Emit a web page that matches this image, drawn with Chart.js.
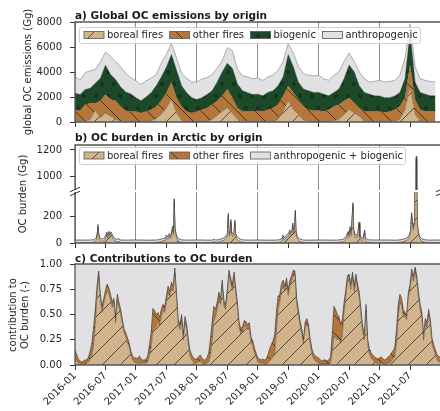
<!DOCTYPE html>
<html>
<head>
<meta charset="utf-8">
<script src="https://cdn.jsdelivr.net/npm/chart.js@4.4.1/dist/chart.umd.min.js"></script>
<style>
  html, body { margin: 0; padding: 0; background: #fff; }
  #wrap { position: relative; width: 440px; height: 411px; overflow: hidden; }
  canvas { position: absolute; left: 0; }
  .ttl { position: absolute; left: 75px; font: bold 10.5px "DejaVu Sans"; line-height: 12px; color: #1a1a1a; white-space: nowrap; }
  .yt { position: absolute; transform: translate(-50%, -50%) rotate(-90deg); font: 10px "DejaVu Sans"; line-height: 12px; text-align: center; white-space: nowrap; color: #262626; }
</style>
</head>
<body>
<div id="wrap">
  <canvas id="cA" width="440" height="130" style="top:0"></canvas>
  <canvas id="cB1" width="440" height="70" style="top:125px"></canvas>
  <canvas id="cB2" width="440" height="66" style="top:185px"></canvas>
  <canvas id="cC" width="440" height="160" style="top:251px"></canvas>
  <div class="ttl" style="top:9px">a) Global OC emissions by origin</div>
  <div class="ttl" style="top:130.5px">b) OC burden in Arctic by origin</div>
  <div class="ttl" style="top:251.5px">c) Contributions to OC burden</div>
  <div class="yt" style="left:27.5px;top:72px">global OC emissions (Gg)</div>
  <div class="yt" style="left:23px;top:194px">OC burden (Gg)</div>
  <div class="yt" style="left:19px;top:314.5px">contribution to<br>OC burden (-)</div>
</div>
<script>
// x axis: months since 2016-01
const tickMonths = [0, 6, 12, 18, 24, 30, 36, 42, 48, 54, 60, 66];
const tickLabels = ['2016-01', '2016-07', '2017-01', '2017-07', '2018-01', '2018-07',
  '2019-01', '2019-07', '2020-01', '2020-07', '2021-01', '2021-07'];

// a) monthly global emissions (Gg), 2016-01 .. 2021-12
const emisTicks = [0, 2000, 4000, 6000, 8000];
const emisBoreal = [20, 20, 50, 200, 900, 300, 700, 450, 200, 50, 20, 10,
  10, 10, 20, 80, 250, 600, 1100, 1800, 700, 100, 20, 10,
  10, 10, 30, 200, 500, 850, 1130, 700, 200, 50, 20, 10,
  10, 10, 20, 60, 200, 850, 1680, 990, 580, 150, 30, 10,
  10, 10, 20, 80, 200, 580, 990, 715, 440, 50, 10, 10,
  10, 10, 20, 50, 200, 990, 2780, 580, 100, 20, 10, 10];
const emisOther = [980, 880, 1350, 1300, 600, 1400, 1500, 1350, 1500, 1200, 880, 840,
  840, 710, 830, 920, 1000, 1100, 1250, 1400, 1250, 1150, 830, 710,
  840, 980, 1100, 1200, 1180, 1240, 1510, 1250, 930, 800, 830, 840,
  890, 840, 970, 1070, 1200, 1240, 1220, 1375, 1220, 1115, 960, 890,
  920, 840, 970, 1185, 1200, 1100, 960, 825, 690, 800, 840, 840,
  840, 760, 830, 940, 1065, 960, 1780, 1220, 890, 830, 840, 840];
const emisBio = [1300, 1300, 1200, 1200, 1600, 1800, 2350, 2000, 1700, 1550, 1500, 1400,
  1100, 980, 1150, 1350, 1650, 1900, 2050, 2200, 2200, 1650, 1500, 1230,
  950, 960, 1070, 1100, 1510, 1910, 2060, 2350, 1920, 1650, 1500, 1350,
  1330, 1250, 1380, 1370, 1500, 1510, 2500, 2065, 1390, 1375, 1510, 1465,
  1435, 1380, 1110, 1100, 1240, 1780, 2615, 2475, 1770, 1515, 1380, 1250,
  1240, 1180, 1100, 1100, 1100, 1510, 2540, 1390, 1375, 1380, 1250, 1250];
const emisAnth = [1350, 1150, 1350, 1400, 1100, 1300, 1050, 1450, 1450, 1600, 1500, 1300,
  1350, 1300, 1300, 1150, 900, 1100, 1000, 900, 950, 1000, 1150, 1250,
  1400, 1500, 1350, 1300, 1110, 900, 1250, 1400, 1150, 1200, 1250, 1250,
  1290, 1230, 1230, 1240, 1250, 1240, 870, 1100, 1240, 1240, 1240, 1315,
  1375, 1230, 1230, 1375, 1360, 1380, 965, 825, 1100, 1095, 960, 1150,
  1240, 1240, 1300, 1240, 1375, 1640, 750, 1240, 1095, 1100, 1150, 1090];

// b) Arctic OC burden (Gg), sampled unevenly (denser around fire peaks)
const burdenTicksHigh = [1000, 1200];
const burdenTicksLow = [0, 200];
const burdenMonth = [0, 1, 2, 3, 3.8, 4.2, 4.4, 4.5, 4.6, 4.8, 5.0, 5.4, 5.8, 6.1, 6.3, 6.45, 6.6, 6.75, 6.9, 7.1, 7.3, 7.5, 7.8, 8.3, 8.6, 9.0, 10, 11,
  12, 13, 14, 15, 16, 16.5, 17.0, 17.5, 17.8, 18.0, 18.3, 18.6, 18.9, 19.2, 19.4, 19.55, 19.7, 19.9, 20.1, 20.5, 21, 22, 23,
  24, 25, 26, 27, 27.4, 27.7, 28.3, 28.8, 29.3, 29.7, 30.0, 30.2, 30.35, 30.55, 30.7, 30.85, 31.1, 31.3, 31.5, 31.65, 31.9, 32.3, 32.8, 33.5, 34.5, 35.5,
  36.5, 37.5, 38.5, 39.5, 40.3, 40.8, 41.0, 41.2, 41.5, 41.8, 42.1, 42.3, 42.5, 42.7, 42.9, 43.05, 43.25, 43.4, 43.55, 43.8, 44.2, 44.8, 45.5, 46.5, 47.5,
  48.5, 49.5, 50.5, 51.5, 52.3, 52.8, 53.2, 53.5, 53.8, 54.0, 54.2, 54.4, 54.75, 54.9, 55.1, 55.4, 55.7, 55.95, 56.1, 56.5, 56.8, 57.05, 57.2, 57.6, 58.5, 59.5,
  60.5, 61.5, 62.5, 63.5, 64.3, 64.9, 65.4, 65.8, 66.1, 66.3, 66.45, 66.6, 66.8, 66.95, 67.1, 67.22, 67.32, 67.45, 67.65, 67.9, 68.3, 69, 70, 71, 72];
const burdenBoreal = [1, 1, 1, 2, 5, 20, 60, 112, 70, 30, 15, 10, 20, 40, 60, 35, 55, 65, 45, 60, 45, 30, 15, 8, 12, 3, 1, 1,
  1, 1, 1, 2, 3, 5, 10, 15, 20, 40, 25, 50, 30, 100, 60, 300, 90, 50, 25, 10, 4, 1, 1,
  1, 1, 1, 2, 10, 4, 5, 12, 20, 30, 45, 195, 50, 70, 150, 60, 45, 55, 145, 50, 30, 15, 6, 3, 1, 1,
  1, 1, 2, 3, 6, 15, 40, 20, 30, 45, 50, 75, 55, 60, 125, 70, 90, 218, 60, 30, 12, 5, 2, 1, 1,
  1, 1, 2, 3, 5, 10, 20, 35, 65, 40, 100, 50, 270, 80, 50, 35, 50, 130, 40, 15, 25, 75, 20, 6, 2, 1,
  1, 1, 2, 3, 6, 12, 18, 35, 70, 200, 140, 90, 130, 400, 450, 1120, 430, 120, 60, 30, 12, 4, 1, 1, 1];
const burdenOther = [1, 1, 1, 2, 2, 3, 5, 8, 5, 3, 2, 2, 3, 4, 6, 4, 5, 6, 4, 5, 4, 3, 2, 2, 2, 1, 1, 1,
  1, 1, 1, 1, 2, 2, 3, 3, 3, 4, 3, 5, 4, 7, 5, 12, 8, 5, 3, 2, 1, 1, 1,
  1, 1, 1, 1, 2, 1, 2, 2, 3, 4, 5, 8, 5, 6, 8, 5, 4, 5, 8, 5, 3, 2, 1, 1, 1, 1,
  1, 1, 1, 1, 2, 2, 4, 3, 3, 4, 5, 6, 5, 5, 7, 5, 6, 10, 5, 3, 2, 1, 1, 1, 1,
  1, 1, 1, 1, 2, 2, 3, 4, 5, 4, 6, 5, 12, 6, 5, 4, 5, 8, 4, 2, 3, 5, 2, 1, 1, 1,
  1, 1, 1, 1, 2, 2, 3, 4, 5, 8, 7, 6, 8, 10, 10, 15, 10, 7, 5, 3, 2, 1, 1, 1, 1];
const burdenRest = [19, 20, 19, 18, 17, 17, 17, 17, 17, 17, 16, 16, 16, 16, 16, 16, 16, 16, 16, 16, 16, 16, 17, 17, 17, 18, 19, 20,
  20, 20, 19, 18, 17, 17, 16, 16, 16, 16, 16, 16, 16, 16, 16, 16, 16, 16, 16, 17, 18, 19, 20,
  20, 20, 19, 18, 17, 17, 17, 16, 16, 16, 16, 16, 16, 16, 16, 16, 16, 16, 16, 16, 16, 17, 17, 18, 19, 20,
  20, 19, 18, 17, 17, 16, 16, 16, 16, 16, 16, 16, 16, 16, 16, 16, 16, 16, 16, 16, 17, 17, 18, 19, 20,
  20, 20, 18, 17, 17, 16, 16, 16, 16, 16, 16, 16, 16, 16, 16, 16, 16, 16, 16, 16, 16, 17, 17, 17, 19, 20,
  20, 20, 18, 17, 17, 16, 16, 16, 16, 16, 16, 16, 16, 16, 16, 16, 16, 16, 16, 16, 17, 18, 19, 20, 20];

// c) share of OC burden, one value every ~10 days (a third of a month)
const contribTicks = [0, 0.25, 0.5, 0.75, 1];
const contribBoreal = [
  0.07, 0.04, 0.02, 0.01, 0.01, 0.01, 0.02, 0.02, 0.03, 0.06, 0.10, 0.20, 0.40, 0.70, 0.88,
  0.65, 0.52, 0.61, 0.68, 0.73, 0.71, 0.64, 0.57, 0.62, 0.42, 0.64, 0.57, 0.50, 0.41, 0.32, 0.28, 0.22, 0.18, 0.10, 0.05, 0.03,
  0.02, 0.02, 0.03, 0.02, 0.02, 0.02, 0.02, 0.03, 0.10, 0.17, 0.34, 0.36, 0.38, 0.42, 0.39,
  0.48, 0.54, 0.52, 0.62, 0.72, 0.68, 0.76, 0.73, 0.91, 0.66, 0.40, 0.35, 0.44, 0.25, 0.42, 0.35, 0.20, 0.09, 0.05, 0.03, 0.02,
  0.02, 0.03, 0.04, 0.02, 0.01, 0.01, 0.02, 0.03, 0.09, 0.22, 0.44, 0.47, 0.55, 0.66, 0.60,
  0.79, 0.58, 0.55, 0.70, 0.89, 0.81, 0.74, 0.87, 0.71, 0.57, 0.37, 0.31, 0.33, 0.38, 0.38, 0.35, 0.36, 0.23, 0.19, 0.12, 0.08,
  0.03, 0.02, 0.02, 0.02, 0.01, 0.01, 0.02, 0.04, 0.06, 0.08, 0.12, 0.32, 0.56, 0.62, 0.74,
  0.78, 0.73, 0.80, 0.69, 0.79, 0.83, 0.89, 0.88, 0.60, 0.50, 0.39, 0.31, 0.21, 0.37, 0.41, 0.35, 0.21, 0.11, 0.06, 0.04, 0.03,
  0.02, 0.01, 0.01, 0.01, 0.01, 0.01, 0.01, 0.02, 0.12, 0.28, 0.27, 0.25, 0.26, 0.22, 0.30,
  0.52, 0.67, 0.82, 0.85, 0.75, 0.87, 0.73, 0.85, 0.75, 0.67, 0.50, 0.33, 0.25, 0.54, 0.20, 0.11, 0.07, 0.05, 0.03, 0.02, 0.02,
  0.01, 0.02, 0.01, 0.01, 0.01, 0.02, 0.02, 0.04, 0.06, 0.08, 0.21, 0.48, 0.62, 0.59, 0.49,
  0.47, 0.45, 0.67, 0.75, 0.90, 0.83, 0.92, 0.83, 0.67, 0.55, 0.47, 0.25, 0.41, 0.37, 0.50, 0.40, 0.21, 0.15, 0.10, 0.05, 0.03,
  0.03];
const contribOther = [
  0.08, 0.06, 0.04, 0.03, 0.02, 0.03, 0.03, 0.03, 0.05, 0.08, 0.12, 0.18, 0.15, 0.08, 0.05,
  0.05, 0.06, 0.05, 0.06, 0.07, 0.05, 0.06, 0.05, 0.04, 0.05, 0.06, 0.05, 0.05, 0.04, 0.04, 0.04, 0.05, 0.04, 0.04, 0.04, 0.04,
  0.05, 0.04, 0.06, 0.04, 0.03, 0.03, 0.04, 0.06, 0.10, 0.15, 0.22, 0.18, 0.12, 0.10, 0.08,
  0.07, 0.06, 0.06, 0.06, 0.06, 0.05, 0.06, 0.05, 0.05, 0.06, 0.05, 0.05, 0.06, 0.05, 0.06, 0.05, 0.05, 0.05, 0.05, 0.04, 0.04,
  0.04, 0.05, 0.06, 0.05, 0.04, 0.04, 0.05, 0.09, 0.16, 0.20, 0.14, 0.08, 0.07, 0.06, 0.06,
  0.05, 0.06, 0.05, 0.05, 0.05, 0.05, 0.06, 0.05, 0.05, 0.05, 0.05, 0.05, 0.05, 0.06, 0.05, 0.05, 0.06, 0.05, 0.05, 0.05, 0.04,
  0.04, 0.04, 0.03, 0.04, 0.04, 0.05, 0.08, 0.12, 0.14, 0.16, 0.18, 0.20, 0.12, 0.08, 0.06,
  0.06, 0.05, 0.06, 0.05, 0.05, 0.05, 0.05, 0.05, 0.06, 0.05, 0.05, 0.05, 0.05, 0.05, 0.05, 0.05, 0.05, 0.05, 0.05, 0.05, 0.05,
  0.05, 0.04, 0.03, 0.04, 0.04, 0.03, 0.04, 0.06, 0.18, 0.30, 0.28, 0.25, 0.22, 0.18, 0.15,
  0.10, 0.07, 0.06, 0.05, 0.05, 0.05, 0.05, 0.05, 0.05, 0.05, 0.05, 0.05, 0.05, 0.06, 0.05, 0.05, 0.05, 0.05, 0.05, 0.05, 0.04,
  0.06, 0.06, 0.05, 0.04, 0.05, 0.06, 0.07, 0.08, 0.08, 0.10, 0.14, 0.12, 0.08, 0.07, 0.06,
  0.05, 0.05, 0.05, 0.05, 0.05, 0.05, 0.05, 0.05, 0.05, 0.05, 0.05, 0.05, 0.05, 0.05, 0.05, 0.05, 0.05, 0.05, 0.05, 0.05, 0.05,
  0.05];

const TAN = '#d2b48c', BROWN = '#b5763a', GREEN = '#1c4a29', GREY = '#e1e1e3';

Chart.defaults.font.family = '"DejaVu Sans", sans-serif';
Chart.defaults.font.size = 10;
Chart.defaults.color = '#262626';

// matplotlib-like hatch fills
function hatch(color, kind, size) {
  const c = document.createElement('canvas');
  const w = size, h = kind === 'o' ? size * 2 : size;
  c.width = w; c.height = h;
  const g = c.getContext('2d');
  g.fillStyle = color; g.fillRect(0, 0, w, h);
  g.strokeStyle = 'rgba(20,20,20,0.85)'; g.lineWidth = 0.8;
  g.beginPath();
  if (kind === '/') {
    for (const o of [-w, 0, w]) { g.moveTo(o, h); g.lineTo(o + w, 0); }
  } else if (kind === '\\') {
    for (const o of [-w, 0, w]) { g.moveTo(o, 0); g.lineTo(o + w, h); }
  } else {
    for (const [px, py] of [[0, 0], [w, 0], [0, h], [w, h], [w / 2, h / 2]]) {
      g.moveTo(px + 1.4, py); g.arc(px, py, 1.4, 0, Math.PI * 2);
    }
  }
  g.stroke();
  return g.createPattern(c, 'repeat');
}

function area(label, data, bg, fill, edge, w) {
  return { label, data, backgroundColor: bg, borderColor: edge, borderWidth: w, fill,
    pointRadius: 0, tension: 0, legendEdge: '#555' };
}
const pts = (xs, ys) => ys.map((y, i) => ({ x: xs[i], y }));

function xAxis(labels, h, ticks) {
  return {
    type: 'linear', min: 0, max: 71.9, z: 1,
    afterBuildTicks: s => { s.ticks = tickMonths.map(v => ({ value: v })); },
    afterFit: s => { s.height = h; s.paddingLeft = 0; s.paddingRight = 0; },
    border: { display: false },
    grid: {
      color: c => (c.tick && c.tick.value % 12 === 0) ? '#8c8c8c' : 'rgba(0,0,0,0)',
      tickColor: '#333', tickLength: 5, drawTicks: ticks
    },
    ticks: { display: labels, autoSkip: false, minRotation: 45, maxRotation: 45, padding: 0,
      callback: (v, i) => tickLabels[i] }
  };
}
function yAxis(min, max, ticks, fmt) {
  return {
    min, max, stacked: true,
    afterBuildTicks: s => { s.ticks = ticks.map(v => ({ value: v })); },
    // fixed gutter; drop the label overhang so the plot box keeps its size
    afterFit: s => { s.width = 75; s.paddingTop = 0; s.paddingBottom = 0; },
    border: { display: false },
    grid: { drawOnChartArea: false, color: 'rgba(0,0,0,0)', tickColor: '#333', tickLength: 5 },
    ticks: { padding: 8, callback: fmt }
  };
}

function drawLegend(ctx, chart, L) {
  ctx.font = '10px "DejaVu Sans"';
  ctx.beginPath();
  if (ctx.roundRect) ctx.roundRect(L.x + 0.5, L.y + 0.5, L.w, L.h, 2.5);
  else ctx.rect(L.x + 0.5, L.y + 0.5, L.w, L.h);
  ctx.fillStyle = 'rgba(255,255,255,0.8)'; ctx.fill();
  ctx.strokeStyle = '#cfcfcf'; ctx.lineWidth = 1; ctx.stroke();
  let x = L.x + 5;
  const cy = L.y + L.h / 2;
  chart.data.datasets.forEach(ds => {
    ctx.fillStyle = ds.backgroundColor; ctx.fillRect(x, cy - 3.5, 20, 7);
    ctx.strokeStyle = ds.legendEdge; ctx.lineWidth = 0.8; ctx.strokeRect(x, cy - 3.5, 20, 7);
    ctx.fillStyle = '#262626'; ctx.textBaseline = 'middle'; ctx.textAlign = 'left';
    ctx.fillText(ds.label, x + 23, cy + 0.5);
    x += 23 + ctx.measureText(ds.label).width + 6.5;
  });
}

// spines, broken-axis marks and legend box
const decor = {
  id: 'decor',
  afterDraw(chart, args, o) {
    const { ctx, chartArea: a } = chart;
    ctx.save();
    ctx.strokeStyle = '#555'; ctx.lineWidth = 1.3;
    ctx.beginPath();
    (o.spines || []).forEach(s => {
      if (s === 'top') { ctx.moveTo(a.left - 0.6, a.top); ctx.lineTo(a.right, a.top); }
      if (s === 'bottom') { ctx.moveTo(a.left - 0.6, a.bottom); ctx.lineTo(a.right, a.bottom); }
      if (s === 'left') { ctx.moveTo(a.left, a.top); ctx.lineTo(a.left, a.bottom); }
    });
    ctx.stroke();
    if (o.cut) {
      const y = o.cut === 'bottom' ? a.bottom - 0.5 : a.top + 1.5;
      ctx.strokeStyle = '#333'; ctx.lineWidth = 1;
      ctx.beginPath();
      [a.left, a.right + 1].forEach(x => { ctx.moveTo(x - 5, y + 2.3); ctx.lineTo(x + 5, y - 2.3); });
      ctx.stroke();
    }
    if (o.legend) drawLegend(ctx, chart, o.legend);
    ctx.restore();
  }
};

function opts(padTop, x, y, decorOpts) {
  return {
    responsive: false, animation: false,
    layout: { padding: { top: padTop, left: 0, right: 0, bottom: 0 } },
    scales: { x, y },
    plugins: { legend: { display: false }, tooltip: { enabled: false }, decor: decorOpts }
  };
}

// a) emissions
new Chart(document.getElementById('cA'), {
  type: 'line',
  data: {
    labels: emisBoreal.map((_, i) => i),
    datasets: [
      area('boreal fires', emisBoreal, hatch(TAN, '/', 18), 'origin', 'rgba(60,60,60,0.5)', 0.6),
      area('other fires', emisOther, hatch(BROWN, '\\', 18), '-1', 'rgba(60,60,60,0.5)', 0.6),
      area('biogenic', emisBio, hatch(GREEN, 'o', 12), '-1', 'rgba(40,40,40,0.6)', 0.6),
      area('anthropogenic', emisAnth, GREY, '-1', '#9a9a9a', 0.8)
    ]
  },
  options: opts(22, xAxis(false, 8, true), yAxis(0, 8000, emisTicks, v => v),
    { spines: ['top', 'left', 'bottom'], legend: { x: 79, y: 27, w: 341, h: 16 } }),
  plugins: [decor]
});

// b) burden, broken y axis: upper and lower part
function burdenSets() {
  return [
    area('boreal fires', pts(burdenMonth, burdenBoreal), hatch(TAN, '/', 18), 'origin', 'rgba(60,60,60,0.6)', 0.6),
    area('other fires', pts(burdenMonth, burdenOther), hatch(BROWN, '\\', 18), '-1', 'rgba(60,60,60,0.6)', 0.6),
    area('anthropogenic + biogenic', pts(burdenMonth, burdenRest), GREY, '-1', '#3c3c3c', 0.8)
  ];
}
new Chart(document.getElementById('cB1'), {
  type: 'line',
  data: { datasets: burdenSets() },
  options: opts(20, xAxis(false, 5, false), yAxis(900, 1237, burdenTicksHigh, v => v),
    { spines: ['top', 'left'], cut: 'bottom', legend: { x: 79, y: 22, w: 326, h: 17 } }),
  plugins: [decor]
});
new Chart(document.getElementById('cB2'), {
  type: 'line',
  data: { datasets: burdenSets() },
  options: opts(7, xAxis(false, 8, true), yAxis(0, 378, burdenTicksLow, v => v),
    { spines: ['left', 'bottom'], cut: 'top' }),
  plugins: [decor]
});

// c) contributions
const contribMonth = contribBoreal.map((_, i) => i / 3);
const contribRest = contribBoreal.map((b, i) => 1 - b - contribOther[i]);
new Chart(document.getElementById('cC'), {
  type: 'line',
  data: {
    datasets: [
      area('boreal fires', pts(contribMonth, contribBoreal), hatch(TAN, '/', 18), 'origin', 'rgba(60,60,60,0.7)', 0.7),
      area('other fires', pts(contribMonth, contribOther), hatch(BROWN, '\\', 18), '-1', 'rgba(50,50,50,0.8)', 0.8),
      area('anthropogenic + biogenic', pts(contribMonth, contribRest), GREY, '-1', 'rgba(0,0,0,0)', 0)
    ]
  },
  options: opts(13, xAxis(true, 46, true), yAxis(0, 1, contribTicks, v => v.toFixed(2)),
    { spines: ['top', 'left', 'bottom'] }),
  plugins: [decor]
});
</script>
</body>
</html>
